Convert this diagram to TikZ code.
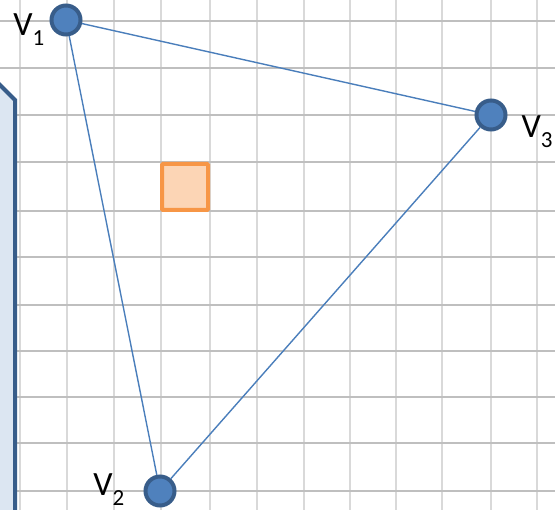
\documentclass[tikz,border=0pt]{standalone}
\usepackage{fontspec}
\setmainfont{Carlito}
\usetikzlibrary{positioning}
\definecolor{gridh}{HTML}{BFBFBF}
\definecolor{gridv}{HTML}{D9D9D9}
\definecolor{vfill}{HTML}{4F81BD}
\definecolor{vline}{HTML}{385D8A}
\definecolor{edgeblue}{HTML}{4A7EBB}
\definecolor{panelfill}{HTML}{DCE6F2}
\definecolor{markfill}{HTML}{FCD5B5}
\definecolor{markline}{HTML}{F79646}
\newcommand{\vsub}[1]{\raisebox{-10pt}{\fontsize{23}{23}\selectfont #1}}

\begin{document}
\begin{tikzpicture}[
    x=1pt, y=-1pt,
    vert/.style={circle, draw=vline, fill=vfill, line width=4pt, minimum size=29pt, inner sep=0pt},
    lbl/.style={inner sep=0pt, font=\fontsize{34}{34}\selectfont},
    markbox/.style={draw=markline, fill=markfill, line width=4pt, minimum size=46pt, inner sep=0pt, rounded corners=1pt},
    edge/.style={draw=edgeblue, line width=1.4pt}
  ]
  \useasboundingbox (0,0) rectangle (555,510);
  \clip (0,0) rectangle (555,510);
  % grid
  \foreach \g in {20,67,114,161,210,257,304,350,396,442,491,537}
    \draw[gridv, line width=2pt] (\g,0) -- (\g,510);
  \foreach \g in {21,68,115,162,211,257,305,351,397,443,491}
    \draw[gridh, line width=2pt] (0,\g) -- (555,\g);
  % side panel
  \draw[vline, fill=panelfill, line width=4pt] (-10,75) -- (15,100) -- (15,530) -- (-10,530) -- cycle;
  % marker
  \node[markbox] (spot) at (185,187) {};
  % vertices
  \node[vert] (v1) at (66,20) {};
  \node[vert] (v2) at (160,491) {};
  \node[vert] (v3) at (491,115) {};
  \draw[edge] (v1) -- (v3) -- (v2) -- (v1);
  \node[lbl, left=5pt of v1, yshift=-10pt] (l1) {V\vsub{1}};
  \node[lbl, left=19pt of v2, yshift=1.5pt] (l2) {V\vsub{2}};
  \node[lbl, right=14pt of v3, yshift=-17pt] (l3) {V\vsub{3}};
\end{tikzpicture}
\end{document}
